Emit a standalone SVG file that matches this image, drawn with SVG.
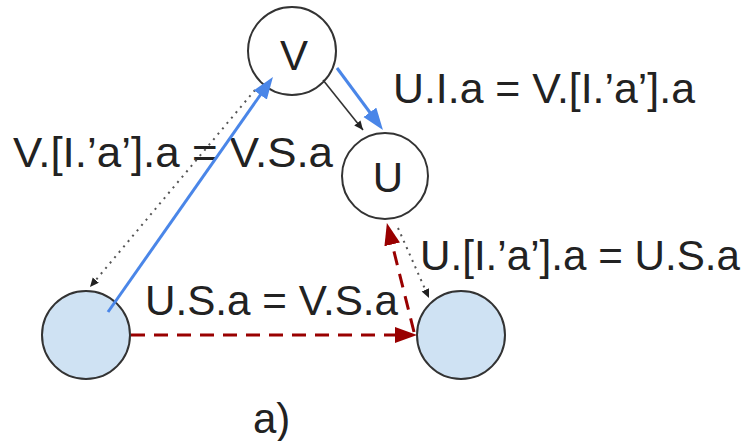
<svg xmlns="http://www.w3.org/2000/svg" width="750" height="441" viewBox="0 0 750 441">
<style>
.node{stroke:#333;stroke-width:2}
.plain{fill:#fff}
.filled{fill:#cfe2f3}
.t{font-family:"Liberation Sans",Arial,sans-serif;font-size:42px;fill:#222}
.c{text-anchor:middle}
.blue{stroke:#4a86e8;stroke-width:3;fill:none}
.red{stroke:#990000;stroke-width:3;fill:none;stroke-dasharray:14 9}
.blk{stroke:#333;stroke-width:1.6;fill:none}
.dot{stroke:#555;stroke-width:2;fill:none;stroke-dasharray:2 5}
</style>
<defs>
<marker id="ab" markerUnits="userSpaceOnUse" markerWidth="24" markerHeight="18" refX="12" refY="8" orient="auto"><path d="M0,0 L22,8 L0,16 z" fill="#4a86e8"/></marker>
<marker id="ar" markerUnits="userSpaceOnUse" markerWidth="24" markerHeight="18" refX="12" refY="8" orient="auto"><path d="M0,0 L22,8 L0,16 z" fill="#990000"/></marker>
<marker id="ak" markerUnits="userSpaceOnUse" markerWidth="12" markerHeight="10" refX="9" refY="4" orient="auto"><path d="M0,0 L9,4 L0,8 z" fill="#222"/></marker>
</defs>
<rect width="750" height="441" fill="#fff"/>
<g id="node-V"><circle class="node plain" cx="292" cy="51" r="44"/><text class="t c" x="294" y="70">V</text></g>
<g id="node-U"><circle class="node plain" cx="385" cy="176" r="43"/><text class="t c" x="388" y="192">U</text></g>
<g id="node-BL"><circle class="node filled" cx="86" cy="335" r="44"/></g>
<g id="node-BR"><circle class="node filled" cx="461" cy="335" r="44"/></g>
<g id="labels">
<text class="t" x="393" y="103" textLength="302" lengthAdjust="spacingAndGlyphs">U.I.a = V.[I.’a’].a</text>
<text class="t" x="13" y="167" textLength="320" lengthAdjust="spacingAndGlyphs">V.[I.’a’].a = V.S.a</text>
<text class="t" x="420" y="270" textLength="320" lengthAdjust="spacingAndGlyphs">U.[I.’a’].a = U.S.a</text>
<text class="t" x="145" y="315" textLength="253" lengthAdjust="spacingAndGlyphs">U.S.a = V.S.a</text>
<text class="t" x="253" y="433">a)</text>
</g>
<g id="connectors">
<line class="dot" x1="255" y1="90" x2="90" y2="287" marker-end="url(#ak)"/>
<line class="blue" x1="108" y1="312" x2="267.2" y2="85.2" marker-end="url(#ab)"/>
<line class="blk" x1="323" y1="80" x2="363" y2="130" marker-end="url(#ak)"/>
<line class="blue" x1="337" y1="68" x2="377" y2="122" marker-end="url(#ab)"/>
<line class="red" x1="131" y1="335" x2="407" y2="335" marker-end="url(#ar)"/>
<line class="red" x1="414" y1="332" x2="389.3" y2="232.7" marker-end="url(#ar)"/>
<line class="dot" x1="398" y1="228" x2="429" y2="298" marker-end="url(#ak)"/>
</g>
</svg>
